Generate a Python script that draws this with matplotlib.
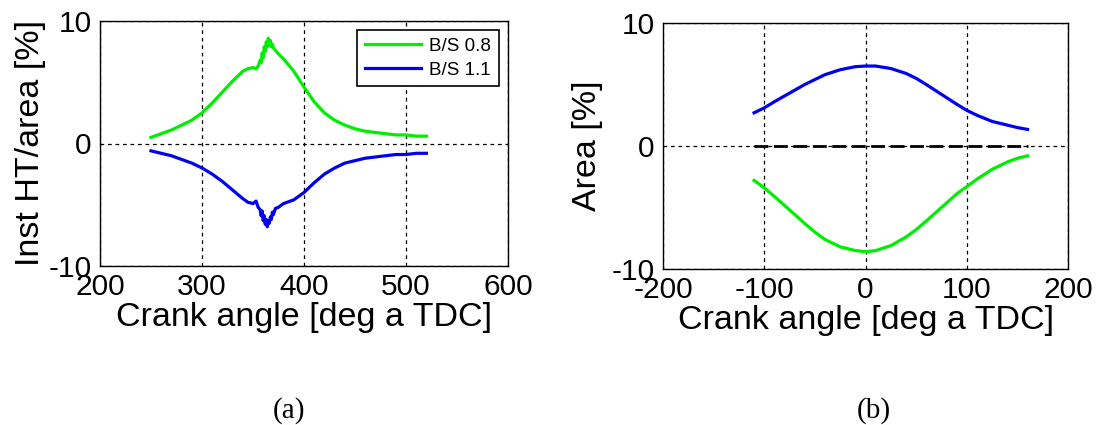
import numpy as np
import matplotlib.pyplot as plt

plt.rcParams['font.family'] = ['Liberation Sans', 'DejaVu Sans']
plt.rcParams['axes.unicode_minus'] = False

# (a) instantaneous heat transfer per area
ang_a = [250, 260, 270, 280, 290, 300, 310, 320, 330, 340, 345, 350, 353, 355,
         357, 358, 359, 360, 361, 362, 363, 364, 365, 366, 367, 368, 369, 370,
         372, 375, 380, 390, 400, 410, 420, 430, 440, 450, 460, 470, 480, 490,
         500, 510, 520]
ht_08 = [0.5, 0.8, 1.1, 1.5, 1.9, 2.5, 3.3, 4.2, 5.1, 5.9, 6.1, 6.2, 6.1, 6.3,
         6.8, 6.6, 7.4, 7.0, 7.9, 7.5, 8.3, 7.9, 8.6, 8.0, 8.4, 7.9, 8.1, 7.8,
         7.6, 7.3, 6.9, 5.9, 4.6, 3.4, 2.5, 1.9, 1.5, 1.2, 1.0, 0.9, 0.8, 0.7,
         0.7, 0.6, 0.6]
ht_11 = [-0.6, -0.8, -1.0, -1.3, -1.6, -2.0, -2.5, -3.1, -3.8, -4.5, -4.8, -4.9, -4.7, -5.2,
         -5.4, -5.9, -5.5, -6.3, -5.9, -6.6, -6.2, -6.8, -6.3, -6.5, -6.0, -6.2, -5.6, -5.8,
         -5.3, -5.2, -4.9, -4.6, -4.0, -3.2, -2.5, -2.0, -1.6, -1.4, -1.2, -1.1, -1.0, -0.9,
         -0.9, -0.8, -0.8]

# (b) area
ang_b = [-110, -100, -90, -75, -60, -50, -40, -25, -10, 0, 10, 25, 40, 50, 60,
         75, 90, 100, 110, 125, 140, 150, 160]
area_11 = [2.7, 3.1, 3.6, 4.3, 5.0, 5.4, 5.8, 6.2, 6.45, 6.5, 6.5, 6.3, 5.9, 5.5, 5.0,
           4.2, 3.4, 2.9, 2.5, 2.0, 1.7, 1.5, 1.35]
area_08 = [-2.8, -3.4, -4.1, -5.2, -6.3, -7.0, -7.6, -8.2, -8.5, -8.6, -8.5, -8.1, -7.4, -6.8, -6.1,
           -5.0, -3.9, -3.3, -2.7, -1.9, -1.3, -1.0, -0.8]
area_sum = [0.0] * len(ang_b)

GREEN = '#00ee00'
BLUE = '#0000ee'

W, H = 1096, 425
fig = plt.figure(figsize=(10.96, 4.25), dpi=100)
ax1 = fig.add_axes([100 / W, 1 - 266 / H, 408 / W, 245 / H])
ax2 = fig.add_axes([663 / W, 1 - 269 / H, 405 / W, 246 / H])

ax1.plot(ang_a, ht_08, color=GREEN, lw=2.3, label='B/S 0.8')
ax1.plot(ang_a, ht_11, color=BLUE, lw=2.3, label='B/S 1.1')
ax1.set_xlim(200, 600)
ax1.set_xticks([200, 300, 400, 500, 600])
ax1.set_ylabel('Inst HT/area [%]', fontsize=24.5, labelpad=2)
leg = ax1.legend(loc='upper right', fontsize=13.5, fancybox=False, framealpha=1,
                 edgecolor='black', handlelength=3.0, handletextpad=0.45,
                 labelspacing=0.35, borderaxespad=0.5)
leg.get_frame().set_linewidth(1.2)

ax2.plot(ang_b, area_11, color=BLUE, lw=2.3)
ax2.plot(ang_b, area_08, color=GREEN, lw=2.3)
ax2.plot(ang_b, area_sum, color='black', lw=2, ls=(0, (5, 2)))
ax2.set_xlim(-200, 200)
ax2.set_xticks([-200, -100, 0, 100, 200])
ax2.set_ylabel('Area [%]', fontsize=24.5, labelpad=6)

for ax in (ax1, ax2):
    ax.set_ylim(-10, 10)
    ax.set_yticks([-10, 0, 10])
    ax.set_xlabel('Crank angle [deg a TDC]', fontsize=24.5, labelpad=1)
    ax.grid(True, color='black', ls=(0, (3, 3)), lw=0.9)
    ax.tick_params(direction='in', length=0, labelsize=21.5, pad=5)
    ax.tick_params(axis='y', pad=6)
    for s in ax.spines.values():
        s.set_linewidth(1.0)

fig.text(289 / W, 1 - 411 / H, '(a)', ha='center', va='center',
         fontsize=21, family='Liberation Serif')
fig.text(874 / W, 1 - 411 / H, '(b)', ha='center', va='center',
         fontsize=21, family='Liberation Serif')

fig.savefig('out.png', dpi=100)
